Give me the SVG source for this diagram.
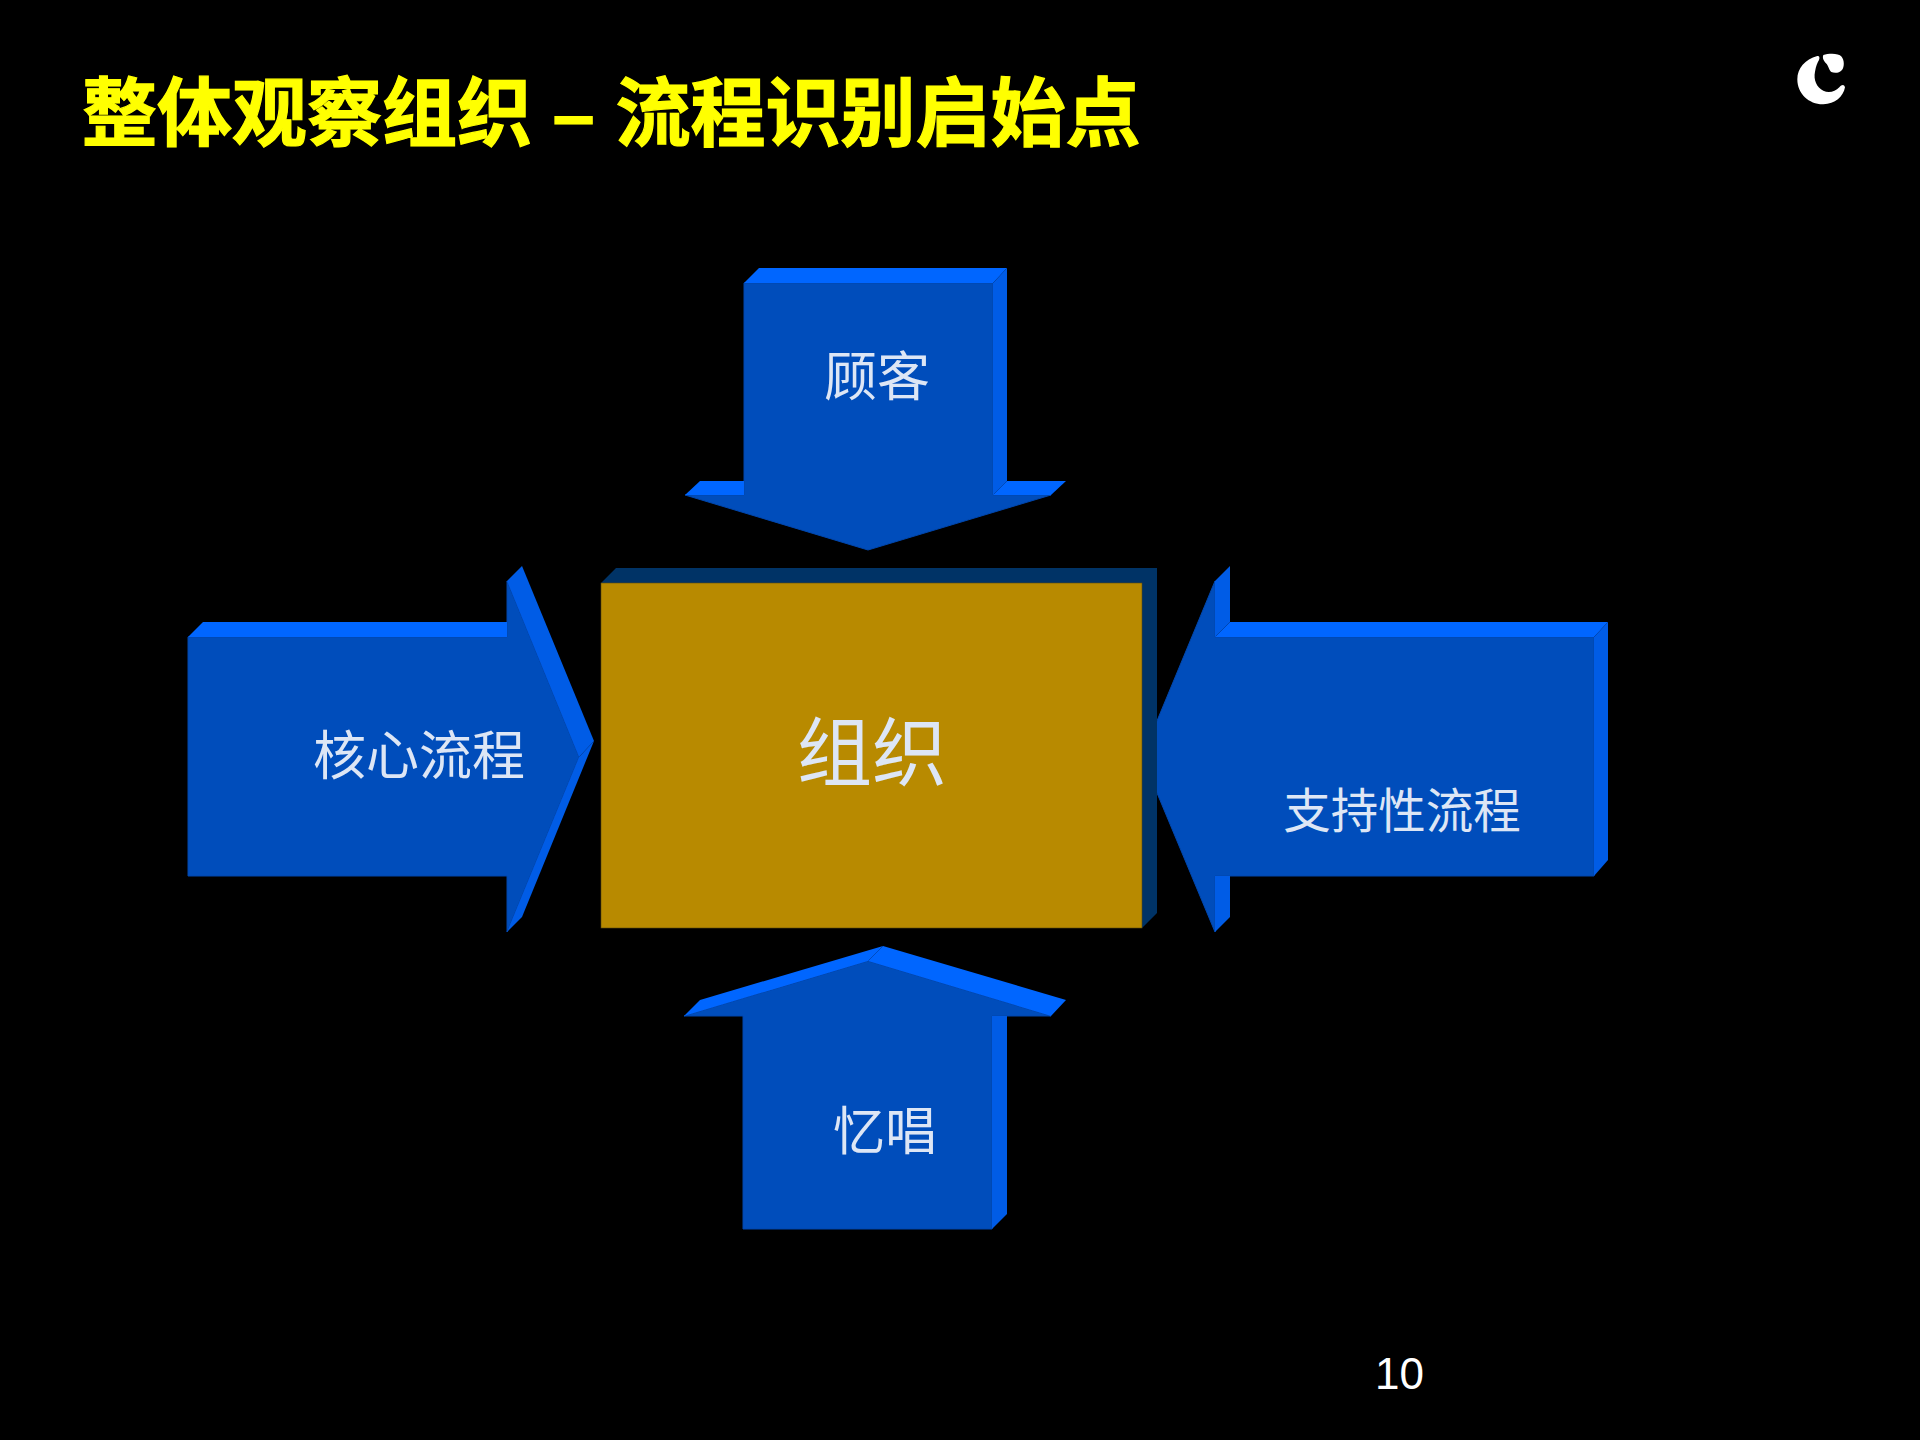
<svg xmlns="http://www.w3.org/2000/svg" width="1920" height="1440" viewBox="0 0 1920 1440">
<style>
.front{fill:#004DBB;stroke:#0047AD;stroke-width:1}
.top{fill:#0066FF}
.side{fill:#005CE6}
.cjk{font-family:"Noto Sans CJK SC","Liberation Sans",sans-serif;font-weight:400;fill:#DDE6F5;text-anchor:middle}
</style>
<rect width="1920" height="1440" fill="#000"/>
<text id="title" x="82" y="140" font-family="'Liberation Sans','Noto Sans CJK SC',sans-serif" font-weight="700" font-size="75" fill="#FFFF00" stroke="#FFFF00" stroke-width="1.2">整体观察组织 – 流程识别启始点</text>
<g id="logo" transform="translate(1760,30) scale(.3333)" fill="#fff">
<path d="M172 78C135 88 112 115 112 148C112 192 148 224 190 223C225 222 250 200 255 172C252 162 245 164 238 172C225 186 205 190 190 182C170 172 160 150 165 125C168 108 172 98 177 90C180 82 178 77 172 78Z"/>
<path d="M190 75C205 70 235 68 245 80C253 90 254 110 246 120C238 130 222 130 214 126C207 122 206 108 198 100C192 94 186 84 190 75Z"/>
</g>
<g id="connectors">
<g id="arrow-top">
<polygon class="front" points="744,283 993,283 993,495 1051,495 868,550 685,495 744,495"/>
<polygon class="top" points="744,283 759,268 1007,268 993,283"/>
<polygon class="side" points="993,283 1007,268 1007,481 993,495"/>
<polygon class="top" points="685,495 700,481 744,481 744,495"/>
<polygon class="top" points="993,495 1007,481 1066,481 1051,495"/>
</g>
<g id="arrow-left">
<polygon class="front" points="188,637 507,637 507,581 579,757 507,932 507,876 188,876"/>
<polygon class="top" points="188,637 203,622 507,622 507,637"/>
<polygon class="side" points="507,581 522,566 594,741 579,757"/>
<polygon class="side" points="579,757 594,741 522,917 507,932"/>
</g>
<g id="arrow-right">
<polygon class="front" points="1215,581 1215,637 1594,637 1594,876 1215,876 1215,932 1142,757"/>
<polygon class="top" points="1215,637 1230,622 1608,622 1594,637"/>
<polygon class="side" points="1594,637 1608,622 1608,860 1594,876"/>
<polygon class="side" points="1215,581 1230,566 1230,622 1215,637"/>
<polygon class="side" points="1215,876 1230,876 1230,917 1215,932"/>
</g>
<g id="arrow-bottom">
<polygon class="front" points="868,961 1051,1016 992,1016 992,1229 743,1229 743,1016 684,1016"/>
<polygon class="top" points="684,1016 700,1000 883,946 868,961"/>
<polygon class="top" points="868,961 883,946 1066,1000 1051,1016"/>
<polygon class="side" points="992,1016 1007,1016 1007,1214 992,1229"/>
</g>
</g>
<g id="node-org">
<polygon fill="#003366" points="601,583 616,568 1157,568 1157,913 1142,928 1142,583"/>
<rect x="601" y="583" width="541" height="345" fill="#B88A00" stroke="#5c4a10" stroke-width=".6"/>
<text class="cjk" x="872" y="780" font-size="75">组织</text>
</g>
<g id="label-customer"><text class="cjk" x="877" y="396" font-size="53">顾客</text></g>
<g id="label-core"><text class="cjk" x="419" y="775" font-size="53">核心流程</text></g>
<g id="label-support"><text class="cjk" x="1402" y="828" font-size="47.5">支持性流程</text></g>
<g id="label-supply"><text class="cjk" x="885" y="1150" font-size="52">忆唱</text></g>
<text id="page" x="1375" y="1389" font-family="'Liberation Sans',sans-serif" font-size="44" fill="#fff">10</text>
</svg>
